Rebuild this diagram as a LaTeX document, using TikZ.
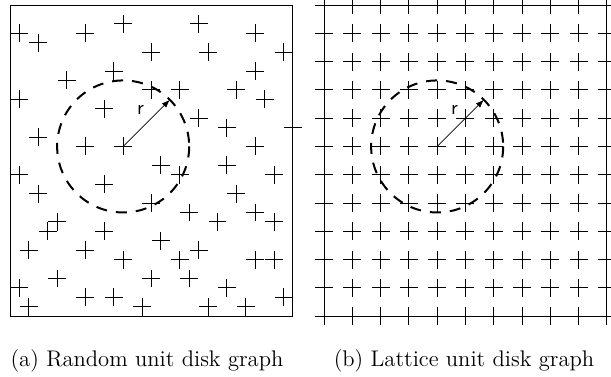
\documentclass[tikz,border=0pt]{standalone}
\usepackage{tikz}
\usetikzlibrary{arrows.meta}

\begin{document}
\begin{tikzpicture}[x=0.5pt, y=-0.5pt,
    every node/.style={font=\fontsize{11.3}{13}\selectfont},
    plus/.style={line width=0.5pt},
    frame/.style={line width=0.5pt},
    disk/.style={line width=1pt, dash pattern=on 5.5pt off 4.5pt},
    radline/.style={line width=0.4pt, -{Latex[length=4pt,width=3pt]}}]

    \useasboundingbox (0,0) rectangle (611,376);

    %% (a) random points
    \begin{scope}[shift={(10,5)}, x=4.715pt, y=-4.715pt]
      \draw[frame] (0,0) rectangle (30,33);
      \foreach \cx/\cy in {1/3,3/4,8/3,12/2,20/2,26/3,15/5,21/5,29/5,
          11/7,26/7,6/8,15/9,18/9,24/9,1/10,27/10,10/11,20/12,23/13,
          30/13,3/14,8/15,12/15,26/15,16/17,23/17,1/18,18/18,28/18,
          10/19,3/20,24/20,15/21,19/22,26/22,5/23,22/23,28/23,4/24,
          10/24,16/25,2/26,8/26,20/26,12/27,18/27,26/27,28/27,5/29,
          15/29,19/29,1/30,23/30,8/31,11/31,29/31,2/32,14/32,21/32,25/32}
        \draw[plus] (\cx,\cy) +(-0.95,0) -- +(0.95,0) +(0,-0.95) -- +(0,0.95);

      \coordinate (ctrA) at (12,15);
      \draw[disk] (ctrA) circle[radius=7];
      \draw[radline] (ctrA) -- ++(-45:7) coordinate (edgeA);
      \node[font=\sffamily] (rA) at (13.85,11.1) {r};
    \end{scope}

    %% (b) lattice points
    \begin{scope}[shift={(324,5)}, x=4.715pt, y=-4.715pt]
      \draw[frame] (0,0) rectangle (30,33);
      \foreach \i in {0,...,10}
        \foreach \j in {0,...,11}
          \draw[plus] (3*\i,3*\j) +(-0.95,0) -- +(0.95,0) +(0,-0.95) -- +(0,0.95);

      \coordinate (ctrB) at (12,15);
      \draw[disk] (ctrB) circle[radius=7];
      \draw[radline] (ctrB) -- ++(-45:7) coordinate (edgeB);
      \node[font=\sffamily] (rB) at (13.85,11.1) {r};
    \end{scope}

    %% captions
    \node[anchor=base] (capA) at (147,366) {(a) Random unit disk graph};
    \node[anchor=base] (capB) at (464,366) {(b) Lattice unit disk graph};

\end{tikzpicture}
\end{document}
